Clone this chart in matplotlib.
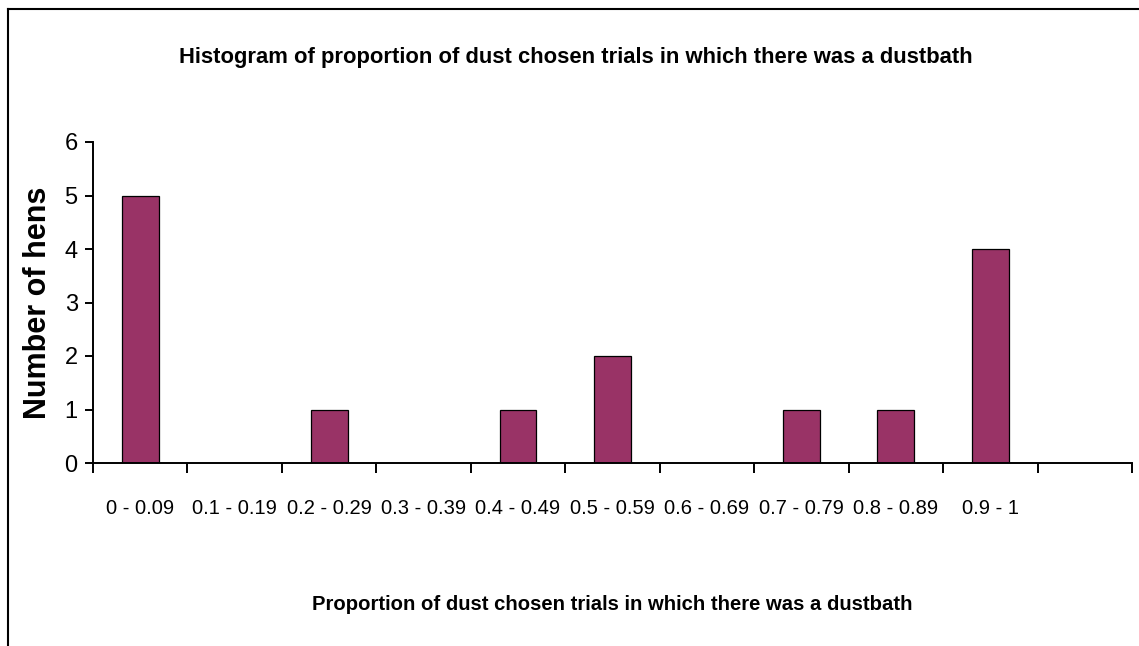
import matplotlib
matplotlib.use("Agg")
import matplotlib.pyplot as plt
from matplotlib.lines import Line2D

# Bins and hen counts (last bin has no label and no bar)
bins = ["0 - 0.09", "0.1 - 0.19", "0.2 - 0.29", "0.3 - 0.39", "0.4 - 0.49",
        "0.5 - 0.59", "0.6 - 0.69", "0.7 - 0.79", "0.8 - 0.89", "0.9 - 1", ""]
hens = [5, 0, 1, 0, 1, 2, 0, 1, 1, 4, 0]
y_ticks = [0, 1, 2, 3, 4, 5, 6]

ARIAL = ["Liberation Sans", "DejaVu Sans"]

fig = plt.figure(figsize=(11.39, 6.46), dpi=100)
ax = fig.add_axes([93 / 1139, 1 - 463 / 646, (1132 - 93) / 1139, (463 - 142) / 646])

x = list(range(len(bins)))
ax.bar(x, hens, width=0.39, color="#993366", edgecolor="black", linewidth=0.9, zorder=2)

ax.set_xlim(-0.5, len(bins) - 0.5)
ax.set_ylim(0, 6)

# tick marks on bin edges, labels in bin centres
ax.set_xticks([i - 0.5 for i in range(len(bins) + 1)])
ax.set_xticklabels([])
ax.set_xticks(x, minor=True)
ax.set_xticklabels(bins, minor=True, family=ARIAL, fontsize=14.5)
ax.tick_params(axis="x", which="major", direction="out", length=7, width=1.4)
ax.tick_params(axis="x", which="minor", length=0, pad=26)

ax.set_yticks(y_ticks)
ax.set_yticklabels([str(v) for v in y_ticks], family=ARIAL, fontsize=17)
ax.tick_params(axis="y", direction="out", length=6, width=1.4, pad=5)

for side in ["top", "right"]:
    ax.spines[side].set_visible(False)
for side in ["left", "bottom"]:
    ax.spines[side].set_linewidth(1.4)

fig.text(576 / 1139, 1 - 63 / 646, "Histogram of proportion of dust chosen trials in which there was a dustbath",
         ha="center", va="baseline", family=ARIAL, fontweight="bold", fontsize=15.8)
fig.text(612 / 1139, 1 - 610 / 646, "Proportion of dust chosen trials in which there was a dustbath",
         ha="center", va="baseline", family=ARIAL, fontweight="bold", fontsize=14.6)
fig.text(38 / 1139, 1 - 303 / 646, "Number of hens", rotation=90,
         ha="center", va="center", family=ARIAL, fontweight="bold", fontsize=22)

# chart area border (only left and top edges fall inside the picture)
fig.add_artist(Line2D([8 / 1139, 8 / 1139], [0, 1 - 9 / 646], color="black", linewidth=1.5,
                      transform=fig.transFigure))
fig.add_artist(Line2D([8 / 1139, 1], [1 - 9 / 646, 1 - 9 / 646], color="black", linewidth=1.5,
                      transform=fig.transFigure))

fig.savefig("out.png", dpi=100)
